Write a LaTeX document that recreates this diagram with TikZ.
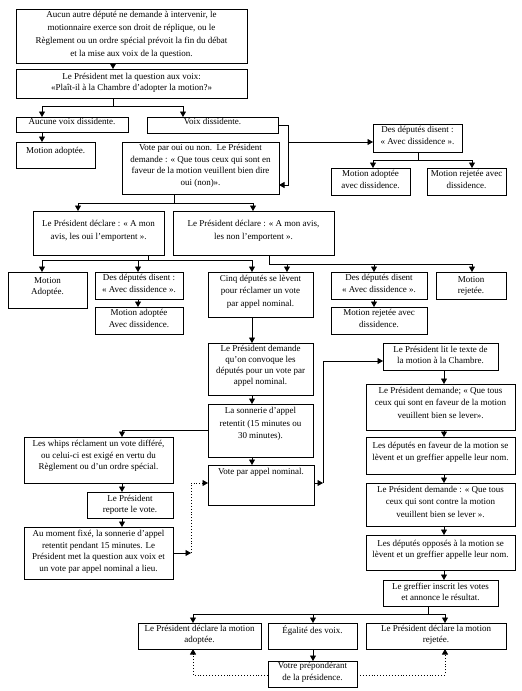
\documentclass[tikz,border=0pt]{standalone}
\usepackage{fontspec}
\setmainfont{Liberation Serif}
\usetikzlibrary{arrows.meta}
\tikzset{
  box/.style={draw, line width=0.9pt, inner sep=0pt, outer sep=0pt},
  txt/.style={align=center, inner xsep=0pt, inner ysep=2.5pt, font=\fontsize{9}{11.5}\selectfont},
  ln/.style={line width=0.9pt},
  arr/.style={ln, -{Triangle[length=5.5pt,width=6pt]}},
  dotarr/.style={ln, dotted, -{Triangle[length=5.5pt,width=6pt]}},
}
\newcommand\bx[7][]{%
  \node[box, minimum width={(#5-#3)*1pt}, minimum height={(#6-#4)*1pt}] (#2) at ({(#3+#5)/2},{(#4+#6)/2}) {};
  \node[txt, anchor=north, #1] at (#2.north) {#7};
}
\begin{document}
\begin{tikzpicture}[x=1pt,y=-1pt]
\useasboundingbox[fill=white] (0,0) rectangle (522,691);
% boxes
\bx[font=\fontsize{9}{13}\selectfont, inner ysep=2pt]{B1}{16}{9}{247}{63}{Aucun autre député ne demande à intervenir, le\\ motionnaire exerce son droit de réplique, ou le\\ Règlement ou un ordre spécial prévoit la fin du débat\\ et la mise aux voix de la question.}
\bx[inner ysep=4pt]{B2}{16}{69}{247}{98}{Le Président met la question aux voix:\\ «Plaît-il à la Chambre d’adopter la motion?»}
\bx[inner ysep=1.5pt]{B3a}{16}{117}{128}{132}{Aucune voix dissidente.}
\bx[inner ysep=1.5pt]{B3b}{147}{117}{278}{133}{Voix dissidente.}
\bx[inner ysep=5pt]{B4a}{16}{142}{95}{168}{Motion adoptée.}
\bx{B4b}{122}{142}{279}{194}{Vote par oui ou non.\ \ Le Président\\ demande : « Que tous ceux qui sont en\\ faveur de la motion veuillent bien dire\\ oui (non)».}
\bx{D1}{373}{124}{462}{152}{Des députés disent :\\ « Avec dissidence ».}
\bx{D1a}{331}{168}{410}{195}{Motion adoptée\\ avec dissidence.}
\bx{D1b}{427}{168}{506}{195}{Motion rejetée avec\\ dissidence.}
\bx[inner ysep=9pt, font=\fontsize{9}{13}\selectfont]{P1}{33}{211}{164}{255}{Le Président déclare : « A mon\\ avis, les oui l’emportent ».}
\bx[inner ysep=9pt, font=\fontsize{9}{13}\selectfont]{P2}{173}{211}{334}{255}{Le Président déclare : « A mon avis,\\ les non l’emportent ».}
\bx[inner ysep=5pt]{MA}{8}{272}{87}{308}{Motion\\ Adoptée.}
\bx{DA}{95}{272}{183}{299}{Des députés disent :\\ « Avec dissidence ».}
\bx{MAD}{95}{307}{183}{334}{Motion adoptée\\ Avec dissidence.}
\bx[inner ysep=3pt, font=\fontsize{9}{12.5}\selectfont]{CQ}{208}{272}{313}{317}{Cinq députés se lèvent\\ pour réclamer un vote\\ par appel nominal.}
\bx{DR}{331}{272}{427}{299}{Des députés disent\\ « Avec dissidence ».}
\bx{MRD}{331}{307}{427}{334}{Motion rejetée avec\\ dissidence.}
\bx[inner ysep=4pt]{MR}{436}{272}{506}{299}{Motion\\ rejetée.}
\bx[font=\fontsize{9}{11}\selectfont]{C1}{208}{343}{313}{395}{Le Président demande\\ qu’on convoque les\\ députés pour un vote par\\ appel nominal.}
\bx[inner ysep=3.5pt, font=\fontsize{9}{12.5}\selectfont]{C2}{208}{404}{313}{457}{La sonnerie d’appel\\ retentit (15 minutes ou\\ 30 minutes).}
\bx[inner ysep=3.5pt]{VN}{208}{465}{314}{505}{Vote par appel nominal.}
\bx[inner ysep=3pt]{W1}{24}{437}{173}{483}{Les whips réclament un vote différé,\\ ou celui-ci est exigé en vertu du\\ Règlement ou d’un ordre spécial.}
\bx[inner ysep=3pt]{W2}{87}{492}{173}{518}{Le Président\\ reporte le vote.}
\bx[inner ysep=3pt]{W3}{24}{527}{173}{579}{Au moment fixé, la sonnerie d’appel\\ retentit pendant 15 minutes. Le\\ Président met la question aux voix et\\ un vote par appel nominal a lieu.}
\bx[inner ysep=3pt]{R1}{383}{343}{498}{370}{Le Président lit le texte de\\ la motion à la Chambre.}
\bx[inner ysep=3pt, font=\fontsize{9}{12.5}\selectfont]{R2}{366}{384}{515}{430}{Le Président demande; « Que tous\\ ceux qui sont en faveur de la motion\\ veuillent bien se lever».}
\bx[inner ysep=5pt]{R3}{366}{437}{515}{474}{Les députés en faveur de la motion se\\ lèvent et un greffier appelle leur nom.}
\bx[inner ysep=3pt, font=\fontsize{9}{12.5}\selectfont]{R4}{366}{483}{515}{526}{Le Président demande : « Que tous\\ ceux qui sont contre la motion\\ veuillent bien se lever ».}
\bx[inner ysep=5pt]{R5}{366}{535}{515}{570}{Les députés opposés à la motion se\\ lèvent et un greffier appelle leur nom.}
\bx{R6}{383}{580}{498}{606}{Le greffier inscrit les votes\\ et annonce le résultat.}
\bx[inner ysep=2pt]{F1}{138}{623}{261}{649}{Le Président déclare la motion\\ adoptée.}
\bx[inner ysep=3pt]{F2}{268}{623}{357}{649}{Égalité des voix.}
\bx[inner ysep=2pt]{F3}{366}{623}{506}{649}{Le Président déclare la motion\\ rejetée.}
\bx[inner ysep=1.5pt]{F4}{268}{661}{357}{687}{Votre prépondérant\\ de la présidence.}
% connectors
\draw[arr] (113,0 |- B1.south) -- (113,0 |- B2.north);
\draw[ln] (113,0 |- B2.south) -- (113,106);
\draw[arr] (113,106) -| (42,0 |- B3a.north);
\draw[arr] (113,106) -| (183,0 |- B3b.north);
\draw[arr] (42,0 |- B3a.south) -- (42,0 |- B4a.north);
\draw[arr] (B3b.east) -- (288,0 |- B3b.east) -- (288,185) -- (B4b.east |- 0,185);
\draw[arr] (288,142) -- (D1.west |- 0,142);
\draw[ln] (418,0 |- D1.south) -- (418,160);
\draw[arr] (418,160) -| (373,0 |- D1a.north);
\draw[arr] (418,160) -| (472,0 |- D1b.north);
\draw[ln] (174,0 |- B4b.south) -- (174,203);
\draw[arr] (174,203) -| (78,0 |- P1.north);
\draw[arr] (174,203) -| (253,0 |- P2.north);
\draw[ln] (148,0 |- P1.south) -- (148,260);
\draw[arr] (148,260) -| (42,0 |- MA.north);
\draw[arr] (148,260) -| (138,0 |- DA.north);
\draw[arr] (148,260) -| (252,0 |- CQ.north);
\draw[ln] (269,0 |- P2.south) -- (269,264);
\draw[arr] (269,264) -| (287,0 |- CQ.north);
\draw[arr] (269,264) -| (374,0 |- DR.north);
\draw[arr] (269,264) -| (472,0 |- MR.north);
\draw[arr] (138,0 |- DA.south) -- (138,0 |- MAD.north);
\draw[arr] (374,0 |- DR.south) -- (374,0 |- MRD.north);
\draw[arr] (252,0 |- CQ.south) -- (252,0 |- C1.north);
\draw[arr] (252,0 |- C1.south) -- (252,0 |- C2.north);
\draw[arr] (252,0 |- C2.south) -- (252,0 |- VN.north);
\draw[arr] (C2.west |- 0,430) -| (122,0 |- W1.north);
\draw[arr] (122,0 |- W1.south) -- (122,0 |- W2.north);
\draw[arr] (122,0 |- W2.south) -- (122,0 |- W3.north);
\draw[arr] (W3.east |- 0,553) -- (191,553);
\draw[dotarr] (191,553) -- (191,483) -- (VN.west |- 0,483);
\draw[arr] (VN.east |- 0,483) -- (323,483);
\draw[arr] (323,483) -- (323,361) -- (R1.west |- 0,361);
\draw[arr] (444,0 |- R1.south) -- (444,0 |- R2.north);
\draw[arr] (444,0 |- R2.south) -- (444,0 |- R3.north);
\draw[arr] (444,0 |- R3.south) -- (444,0 |- R4.north);
\draw[arr] (444,0 |- R4.south) -- (444,0 |- R5.north);
\draw[arr] (444,0 |- R5.south) -- (444,0 |- R6.north);
\draw[ln] (428,0 |- R6.south) -- (428,614);
\draw[arr] (428,614) -| (193,0 |- F1.north);
\draw[arr] (428,614) -| (313,0 |- F2.north);
\draw[arr] (428,614) -| (445,0 |- F3.north);
\draw[arr] (313,0 |- F2.south) -- (313,0 |- F4.north);
\draw[dotarr] (F4.west |- 0,675) -| (193,0 |- F1.south);
\draw[dotarr] (F4.east |- 0,675) -| (445,0 |- F3.south);
\end{tikzpicture}
\end{document}
